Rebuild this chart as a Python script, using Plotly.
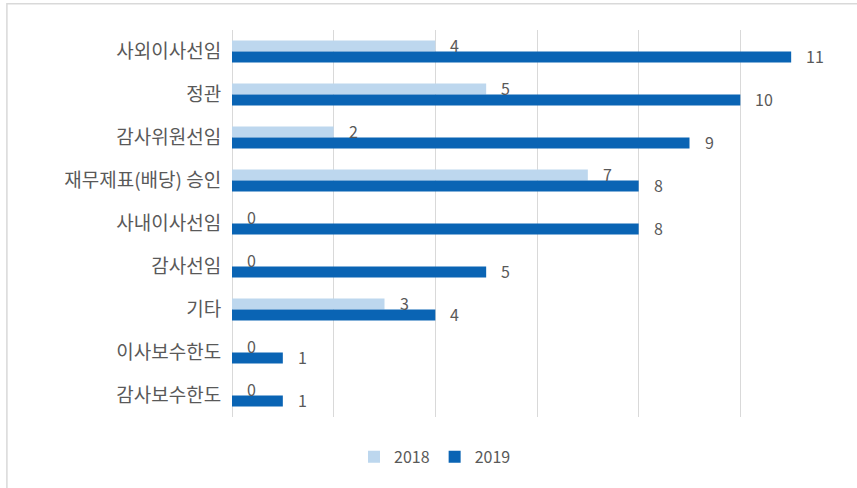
import plotly.graph_objects as go

categories = ["사외이사선임", "정관", "감사위원선임", "재무제표(배당) 승인", "사내이사선임",
              "감사선임", "기타", "이사보수한도", "감사보수한도"]
v2018 = [4, 5, 2, 7, 0, 0, 3, 0, 0]
v2019 = [11, 10, 9, 8, 8, 5, 4, 1, 1]
series_names = ["2018", "2019"]

c2018 = "#bdd7ee"
c2019 = "#0a64b4"
txt = "#595959"
font_kr = "Noto Sans CJK KR, Malgun Gothic, sans-serif"

fig = go.Figure()
fig.add_trace(go.Bar(y=categories, x=v2018, name=series_names[0], orientation="h",
                     marker=dict(color=c2018, line=dict(width=0)), hoverinfo="x+y"))
fig.add_trace(go.Bar(y=categories, x=v2019, name=series_names[1], orientation="h",
                     marker=dict(color=c2019, line=dict(width=0)), hoverinfo="x+y"))

annotations = []
for cat, a, b in zip(categories, v2018, v2019):
    annotations.append(dict(x=a, y=cat, xref="x", yref="y", text=str(a), showarrow=False,
                            xanchor="left", yanchor="middle", xshift=13, yshift=7,
                            font=dict(size=16, color=txt, family=font_kr)))
    annotations.append(dict(x=b, y=cat, xref="x", yref="y", text=str(b), showarrow=False,
                            xanchor="left", yanchor="middle", xshift=13, yshift=-4,
                            font=dict(size=16, color=txt, family=font_kr)))

fig.update_layout(
    width=857, height=488,
    margin=dict(l=232, r=15, t=30, b=71),
    paper_bgcolor="white", plot_bgcolor="white",
    barmode="group", bargap=0.49, bargroupgap=0,
    font=dict(family=font_kr, color=txt),
    xaxis=dict(range=[0, 12], dtick=2, showticklabels=False, showgrid=True,
               gridcolor="#d9d9d9", gridwidth=1, zeroline=True, zerolinecolor="#d9d9d9",
               zerolinewidth=1, showline=False, fixedrange=True),
    yaxis=dict(autorange="reversed", showgrid=False, showline=False, ticks="outside",
               ticklen=6, tickcolor="rgba(0,0,0,0)", tickfont=dict(size=19, color=txt, family=font_kr)),
    legend=dict(orientation="h", x=0.2, xanchor="left", y=-0.103, yanchor="middle",
                font=dict(size=16, color=txt, family=font_kr), traceorder="normal"),
    annotations=annotations,
    shapes=[dict(type="rect", xref="paper", yref="paper", x0=-0.369, x1=1.1, y0=-0.3, y1=1.068,
                 line=dict(color="#d9d9d9", width=1.5), fillcolor="rgba(0,0,0,0)", layer="below")],
)

fig.write_html("out.html")
